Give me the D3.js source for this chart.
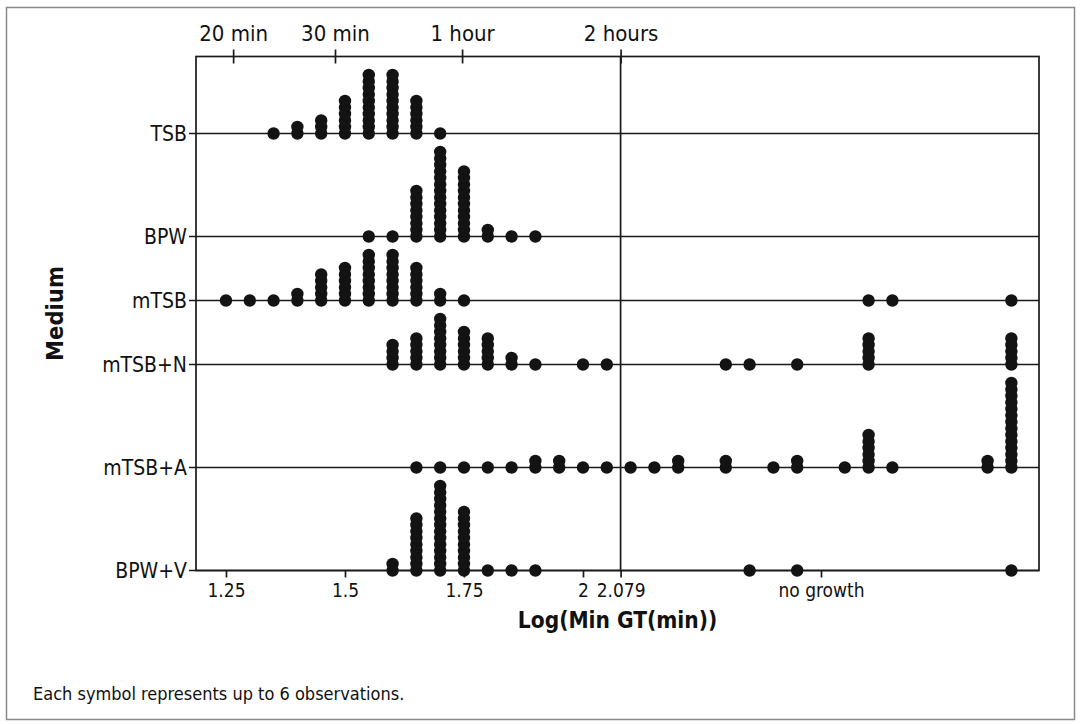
<!DOCTYPE html>
<html>
<head>
<meta charset="utf-8">
<script src="https://cdn.jsdelivr.net/npm/d3@7"></script>
<style>
  html, body { margin: 0; padding: 0; background: #fff; }
  svg text { font-family: "DejaVu Sans Condensed", "DejaVu Sans", sans-serif; font-stretch: condensed; fill: #111; }
</style>
</head>
<body>
<svg id="chart" width="1081" height="724"></svg>
<script>
// Media (rows, top to bottom)
const media = ["TSB", "BPW", "mTSB", "mTSB+N", "mTSB+A", "BPW+V"];

// Binned Log(Min GT) values and number of symbols stacked at each bin
const tsbBins    = [1.35, 1.40, 1.45, 1.50, 1.55, 1.60, 1.65, 1.70];
const tsbCounts  = [1, 2, 3, 6, 10, 10, 6, 1];

const bpwBins    = [1.55, 1.60, 1.65, 1.70, 1.75, 1.80, 1.85, 1.90];
const bpwCounts  = [1, 1, 8, 14, 11, 2, 1, 1];

const mtsbBins   = [1.25, 1.30, 1.35, 1.40, 1.45, 1.50, 1.55, 1.60, 1.65, 1.70, 1.75, 2.60, 2.65, 2.90];
const mtsbCounts = [1, 1, 1, 2, 5, 6, 8, 8, 6, 2, 1, 1, 1, 1];

const mtsbNBins   = [1.60, 1.65, 1.70, 1.75, 1.80, 1.85, 1.90, 2.00, 2.05, 2.30, 2.35, 2.45, 2.60, 2.90];
const mtsbNCounts = [4, 5, 8, 6, 5, 2, 1, 1, 1, 1, 1, 1, 5, 5];

const mtsbABins   = [1.65, 1.70, 1.75, 1.80, 1.85, 1.90, 1.95, 2.00, 2.05, 2.10, 2.15, 2.20, 2.30, 2.40, 2.45, 2.55, 2.60, 2.65, 2.85, 2.90];
const mtsbACounts = [1, 1, 1, 1, 1, 2, 2, 1, 1, 1, 1, 2, 2, 1, 2, 1, 6, 1, 2, 14];

const bpwVBins   = [1.60, 1.65, 1.70, 1.75, 1.80, 1.85, 1.90, 2.35, 2.45, 2.90];
const bpwVCounts = [2, 9, 14, 10, 1, 1, 1, 1, 1, 1];

// Axis ticks
const bottomTicks = [1.25, 1.5, 1.75, 2, 2.079, 2.5];
const bottomTickLabels = ["1.25", "1.5", "1.75", "2", "2.079", "no growth"];
const topTicks = [1.265, 1.479, 1.746, 2.079];
const topTickLabels = ["20 min", "30 min", "1 hour", "2 hours"];
const cutoff = 2.079; // 2 hours

const rows = [
  { name: media[0], bins: tsbBins,   counts: tsbCounts },
  { name: media[1], bins: bpwBins,   counts: bpwCounts },
  { name: media[2], bins: mtsbBins,  counts: mtsbCounts },
  { name: media[3], bins: mtsbNBins, counts: mtsbNCounts },
  { name: media[4], bins: mtsbABins, counts: mtsbACounts },
  { name: media[5], bins: bpwVBins,  counts: bpwVCounts }
];

(function draw() {
  const svg = d3.select("#chart");
  const pLeft = 196, pRight = 1039, pTop = 56.5;
  const r = 6.2, step = 6.5, pad = 12.3;

  // each row gets room for its tallest stack
  let acc = pTop;
  const baselines = rows.map(row => {
    const m = d3.max(row.counts);
    acc += (m - 1) * step + r + pad;
    return acc;
  });
  const pBottom = baselines[baselines.length - 1];

  const x = d3.scaleLinear().domain([1.187, 2.958]).range([pLeft, pRight]);
  const y = d3.scaleOrdinal().domain(media).range(baselines);

  // outer page frame
  svg.append("rect")
    .attr("x", 6.5).attr("y", 7.5).attr("width", 1068).attr("height", 712)
    .attr("fill", "none").attr("stroke", "#8a8a8a").attr("stroke-width", 1.5);

  // plot frame
  svg.append("rect")
    .attr("x", pLeft).attr("y", pTop).attr("width", pRight - pLeft).attr("height", pBottom - pTop)
    .attr("fill", "none").attr("stroke", "#1a1a1a").attr("stroke-width", 1.7);

  // 2 hour reference line
  svg.append("line")
    .attr("x1", x(cutoff)).attr("x2", x(cutoff))
    .attr("y1", pTop).attr("y2", pBottom)
    .attr("stroke", "#1a1a1a").attr("stroke-width", 1.7);

  // row baselines
  svg.append("g").selectAll("line").data(media).join("line")
    .attr("x1", pLeft - 7).attr("x2", pRight)
    .attr("y1", d => y(d)).attr("y2", d => y(d))
    .attr("stroke", "#1a1a1a").attr("stroke-width", 1.7);

  // row labels
  svg.append("g").selectAll("text").data(media).join("text")
    .attr("x", pLeft - 9).attr("y", d => y(d))
    .attr("text-anchor", "end").attr("dominant-baseline", "central")
    .attr("font-size", 21)
    .text(d => d);

  // bottom axis
  const bottomAxis = d3.axisBottom(x)
    .tickValues(bottomTicks)
    .tickFormat((d, i) => bottomTickLabels[i])
    .tickSize(7).tickPadding(6);
  const gb = svg.append("g").attr("transform", `translate(0,${pBottom})`).call(bottomAxis);
  gb.select(".domain").remove();
  gb.selectAll("line").attr("stroke", "#1a1a1a").attr("stroke-width", 1.7);
  gb.selectAll("text").attr("font-size", 19).attr("font-family", null).attr("fill", "#111");

  // top axis (time equivalents)
  const topAxis = d3.axisTop(x)
    .tickValues(topTicks)
    .tickFormat((d, i) => topTickLabels[i])
    .tickSize(7).tickPadding(9);
  const gt = svg.append("g").attr("transform", `translate(0,${pTop})`).call(topAxis);
  gt.select(".domain").remove();
  gt.selectAll("line").attr("y2", -7).attr("y1", 7).attr("stroke", "#1a1a1a").attr("stroke-width", 1.7);
  gt.selectAll("text").attr("font-size", 22).attr("font-family", null).attr("fill", "#111");

  // stacked symbols
  rows.forEach(row => {
    const pts = [];
    row.bins.forEach((b, i) => {
      for (let k = 0; k < row.counts[i]; k++) pts.push({ v: b, k });
    });
    svg.append("g").selectAll("circle").data(pts).join("circle")
      .attr("cx", d => x(d.v))
      .attr("cy", d => y(row.name) - d.k * step)
      .attr("r", r)
      .attr("fill", "#131313");
  });

  // axis titles
  svg.append("text")
    .attr("x", (pLeft + pRight) / 2).attr("y", 620)
    .attr("text-anchor", "middle").attr("dominant-baseline", "central")
    .attr("font-size", 22.5).attr("font-weight", "bold")
    .text("Log(Min GT(min))");

  svg.append("text")
    .attr("transform", `translate(55,${(pTop + pBottom) / 2}) rotate(-90)`)
    .attr("text-anchor", "middle").attr("dominant-baseline", "central")
    .attr("font-size", 23.5).attr("font-weight", "bold")
    .text("Medium");

  // footnote
  svg.append("text")
    .attr("x", 33).attr("y", 693)
    .attr("dominant-baseline", "central")
    .attr("font-size", 18)
    .text("Each symbol represents up to 6 observations.");
})();
</script>
</body>
</html>
